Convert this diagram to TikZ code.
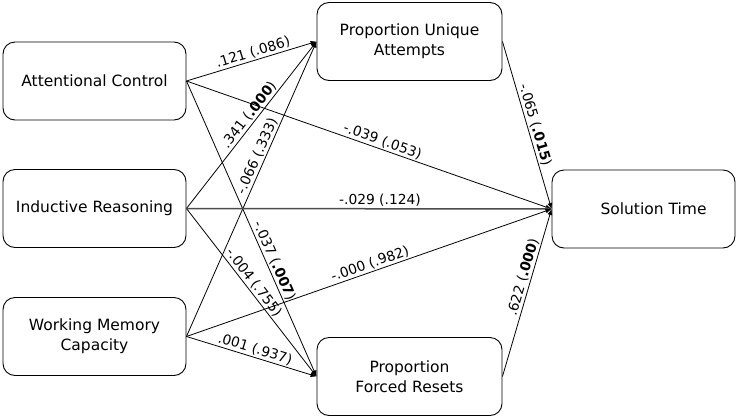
\documentclass[tikz,border=0pt]{standalone}
\usepackage{fontspec}
\setmainfont{DejaVu Sans}
\usetikzlibrary{arrows.meta}
\begin{document}
\begin{tikzpicture}[x=1pt,y=-1pt,
 box/.style={draw, line width=0.9pt, rounded corners=12pt, minimum width=183pt, minimum height=78pt, align=center, font=\fontsize{15.5}{20}\selectfont, inner sep=2pt},
 conn/.style={line width=0.8pt, -{Latex[length=6pt,width=5pt]}},
 lab/.style={font=\fontsize{13.8}{16}\selectfont, sloped, above, inner sep=1.5pt}]
\useasboundingbox (0,0) rectangle (738,418);
\node[box] (ac) at (94.5,81) {Attentional Control};
\node[box] (ir) at (94.5,208.5) {Inductive Reasoning};
\node[box] (wm) at (94.5,336.5) {Working Memory\\Capacity};
\node[box, minimum width=185pt] (ua) at (409.5,41.5) {Proportion Unique\\Attempts};
\node[box, minimum width=185pt] (fr) at (409.5,376.5) {Proportion\\Forced Resets};
\node[box] (st) at (643.5,209) {\hspace*{20pt}Solution Time};
\draw[conn] (ac.east) -- node[lab, pos=0.53] {.121 (.086)} (ua.west);
\draw[conn] (ir.east) -- node[lab, pos=0.53] {.341 (\textbf{.000})} (ua.west);
\draw[conn] (wm.east) -- node[lab, pos=0.6] {-.066 (.333)} (ua.west);
\draw[conn] (ac.east) -- node[lab, pos=0.62] {-.037 (\textbf{.007})} (fr.west);
\draw[conn] (ir.east) -- node[lab, pos=0.47] {-.004 (.755)} (fr.west);
\draw[conn] (wm.east) -- node[lab, pos=0.51] {.001 (.937)} (fr.west);
\draw[conn] (ac.east) -- node[lab, pos=0.53] {-.039 (.053)} (st.west);
\draw[conn, line width=1.5pt, draw=black!70] (ir.east) -- node[lab, pos=0.53] {-.029 (.124)} (st.west);
\draw[conn] (wm.east) -- node[lab, pos=0.51] {-.000 (.982)} (st.west);
\draw[conn] (ua.east) -- node[lab, pos=0.51] {-.065 (\textbf{.015})} (st.west);
\draw[conn] (fr.east) -- node[lab, pos=0.58] {.622 (\textbf{.000})} (st.west);
\end{tikzpicture}
\end{document}
